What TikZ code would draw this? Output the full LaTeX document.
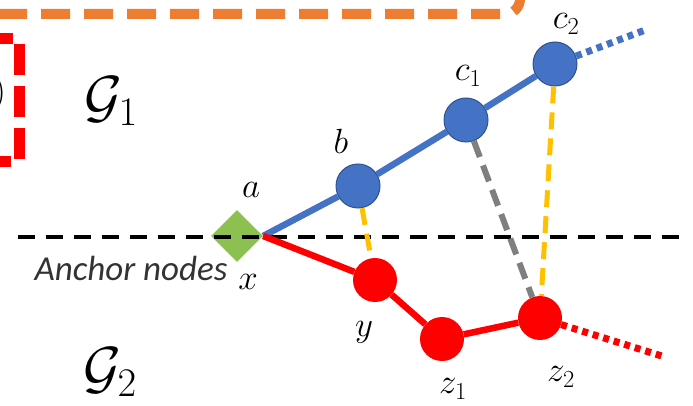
\RequirePackage{fix-cm}
\documentclass[tikz,border=0pt]{standalone}
\usepackage{fontspec}
\usetikzlibrary{shapes.geometric}
\newfontfamily\notefont{Carlito}
\definecolor{nodeblue}{HTML}{4472C4}
\definecolor{rimblue}{HTML}{2F528F}
\definecolor{nodered}{HTML}{FF0000}
\definecolor{matchyellow}{HTML}{FFC000}
\definecolor{matchgray}{HTML}{7F7F7F}
\definecolor{anchorgreen}{HTML}{8CC152}
\definecolor{frameorange}{HTML}{ED7D31}

\begin{document}
\begin{tikzpicture}[
    x=1pt, y=-1pt,
    bnode/.style={
        circle,
        fill=nodeblue,
        draw=rimblue,
        line width=1pt,
        minimum size=44pt,
        inner sep=0pt
    },
    rnode/.style={
        circle,
        fill=nodered,
        minimum size=44pt,
        inner sep=0pt
    },
    anchordia/.style={
        diamond,
        fill=anchorgreen,
        minimum size=52pt,
        inner sep=0pt
    },
    blink/.style={
        draw=nodeblue,
        line width=6.5pt
    },
    rlink/.style={
        draw=nodered,
        line width=6.5pt
    },
    tail/.style={
        line width=7pt,
        dash pattern=on 6pt off 5pt
    },
    match/.style={
        line width=5pt,
        dash pattern=on 17pt off 9pt
    },
    lbl/.style={
        font=\fontsize{35}{37}\selectfont,
        inner sep=0pt
    },
    glbl/.style={
        font=\fontsize{58}{60}\selectfont,
        inner sep=0pt
    }
]
\useasboundingbox (0,0) rectangle (693,406);

% --- Frames cut off at the border
\draw[frameorange, line width=10pt, dash pattern=on 29pt off 14pt, rounded corners=15pt]
    (-2,14) -- (520,14) -- (520,-40);
\draw[nodered, line width=11pt, dash pattern=on 31pt off 11pt]
    (-60,39) -- (19,39) -- (19,162) -- (-60,162);
\node[anchor=east, inner sep=0pt, font=\fontsize{36}{38}\selectfont] (paren) at (6,94) {)};

% --- Graph names
\node[glbl] (g1) at (111,101) {$\mathcal{G}_1$};
\node[glbl] (g2) at (110,372) {$\mathcal{G}_2$};

% --- Nodes
\node[anchordia] (a) at (237,236) {};
\node[bnode] (b) at (358,186) {};
\node[bnode] (c1) at (466,120) {};
\node[bnode] (c2) at (555,64) {};
\node[rnode] (y) at (375,280) {};
\node[rnode] (z1) at (442,339) {};
\node[rnode] (z2) at (540,318) {};
\coordinate (c3) at (648,29);
\coordinate (z3) at (665,357);

% --- Anchor line
\coordinate (left) at (18,237);
\coordinate (right) at (686,237);
\draw[black, line width=4pt, dash pattern=on 17pt off 11pt] (left) -- (right);

% --- Chains
\draw[blink] (a.east) -- (b) -- (c1) -- (c2);
\draw[rlink] (a.east) -- (y) -- (z1) -- (z2);
\draw[nodeblue, tail] (c2) -- (c3);
\draw[nodered, tail] (z2) -- (z3);

% --- Matches
\draw[matchyellow, match] (b) -- (y);
\draw[matchyellow, match] (c2) -- (z2);
\draw[matchgray, match, line width=6pt] (c1) -- (z2);

% --- Labels
\node[lbl] (la) at (251,190) {$a$};
\node[lbl] (lx) at (248,282) {$x$};
\node[lbl] (lb) at (341,141) {$b$};
\node[lbl] (lc1) at (468,76) {$c_1$};
\node[lbl] (lc2) at (566,24) {$c_2$};
\node[lbl] (ly) at (364,332) {$y$};
\node[lbl] (lz1) at (453,389) {$z_1$};
\node[lbl] (lz2) at (561,377) {$z_2$};
\node[font=\notefont\itshape\fontsize{35}{37}\selectfont, text=black!80, inner sep=0pt]
    (anc) at (131,268) {Anchor nodes};

\end{tikzpicture}
\end{document}
